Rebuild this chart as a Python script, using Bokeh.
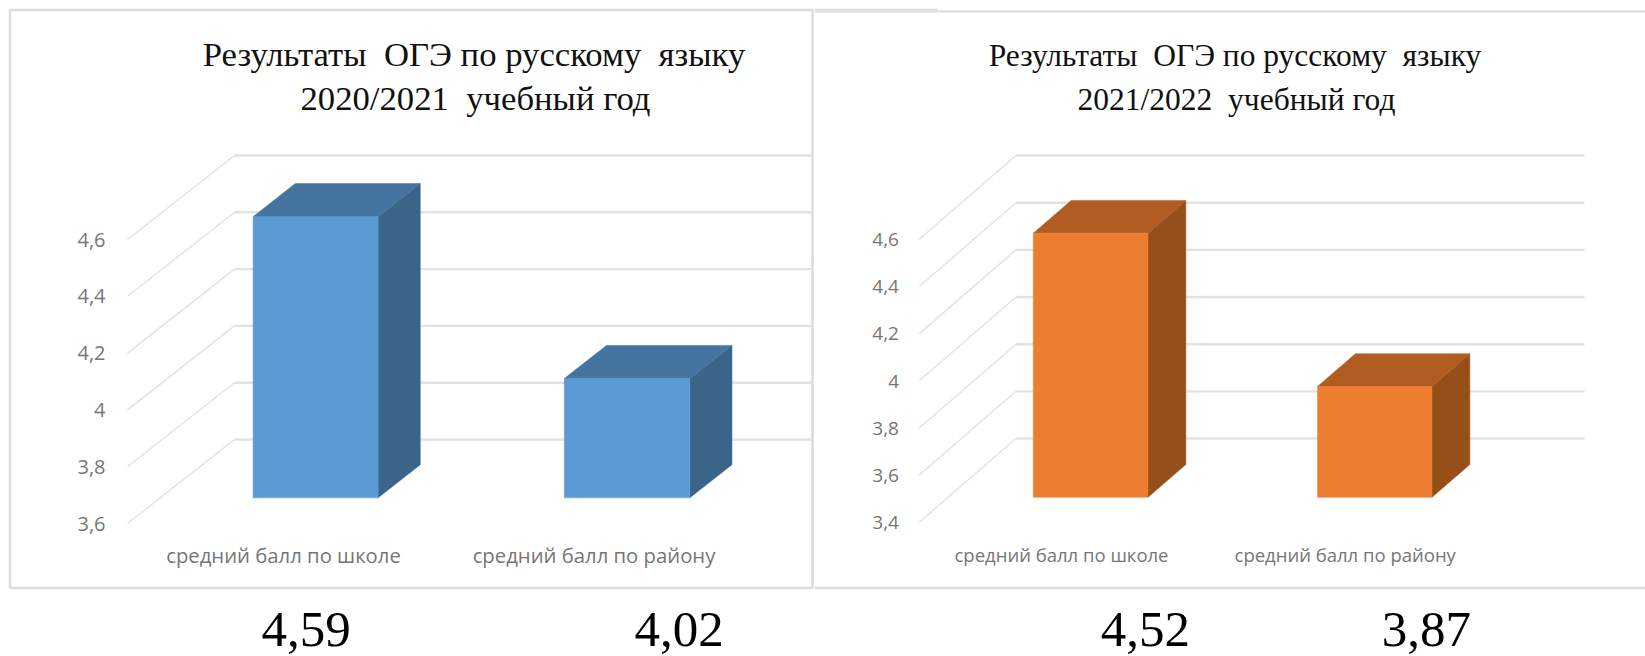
from bokeh.plotting import figure
from bokeh.layouts import row
from bokeh.models import Range1d, LinearAxis, FixedTicker
from bokeh.core.properties import value
from bokeh.embed import file_html
from bokeh.resources import INLINE

# ---- data
categories = ["средний балл по школе", "средний балл по району"]
title_left = ["Результаты\u00a0 ОГЭ по русскому\u00a0 языку", "2020/2021\u00a0 учебный год"]
title_right = ["Результаты\u00a0 ОГЭ по русскому\u00a0 языку", "2021/2022\u00a0 учебный год"]
values_left = [4.59, 4.02]
values_right = [4.52, 3.87]
ticks_left = [3.6, 3.8, 4.0, 4.2, 4.4, 4.6]
ticks_right = [3.4, 3.6, 3.8, 4.0, 4.2, 4.4, 4.6]

PAGE_TOP, PAGE_BOTTOM = 0, 656
SPLIT = 814
FRAME = "#dcdcdc"
GRID = "#e2e2e2"
BASE_FIX = 0.3  # the renderer places "alphabetic" text about this many ems low


def panel(x0, x1, axis_y, px_per_unit, ticks, vals, front_x, back_x, grid_end,
          bars, label_cfg, colors, title, title_cfg, value_x, cat_x, cat_size,
          tick_size, standoff):
    vmin = ticks[0]
    depth_y = 84 / px_per_unit
    depth_x = back_x - front_x
    Y = lambda py: vmin + (axis_y - py) / px_per_unit  # page pixel -> value scale
    T = lambda py, size: Y(py - BASE_FIX * size)

    p = figure(width=x1 - x0, height=PAGE_BOTTOM - PAGE_TOP, output_backend="svg",
               toolbar_location=None, x_axis_type=None, y_axis_type=None,
               x_range=Range1d(x0, x1), y_range=Range1d(Y(PAGE_BOTTOM), Y(PAGE_TOP)),
               min_border=0, outline_line_color=None, background_fill_color="white")
    p.grid.visible = False

    axis = LinearAxis(ticker=FixedTicker(ticks=ticks), fixed_location=front_x,
                      axis_line_color=None, major_tick_line_color=None, minor_tick_line_color=None,
                      major_label_standoff=standoff, major_label_text_color="#767676",
                      major_label_text_font="Open Sans", major_label_text_font_size=tick_size,
                      major_label_overrides={t: f"{t:g}".replace(".", ",") for t in ticks})
    p.add_layout(axis, "left")

    # walls: floor diagonals and back gridlines
    p.segment([front_x] * len(ticks), ticks, [back_x] * len(ticks), [t + depth_y for t in ticks],
              line_color=GRID, line_width=1.4)
    p.segment([back_x] * len(ticks), [t + depth_y for t in ticks],
              [grid_end] * len(ticks), [t + depth_y for t in ticks], line_color=GRID, line_width=2.4)

    # pseudo-3D bars
    d1, d2 = bars["depth"]
    for (xa, xb), v in zip(bars["x"], vals):
        xc = xb + (d2 - d1) * depth_x
        xd = xa + (d2 - d1) * depth_x
        yb = vmin + d1 * depth_y
        yt = v + d1 * depth_y
        dy = (d2 - d1) * depth_y
        p.patch([xb, xc, xc, xb], [yb, yb + dy, yt + dy, yt], fill_color=colors[2], line_color=colors[2], line_width=0.5)
        p.patch([xa, xb, xc, xd], [yt, yt, yt + dy, yt + dy], fill_color=colors[1], line_color=colors[1], line_width=0.5)
        p.quad(left=[xa], right=[xb], bottom=[yb], top=[yt], fill_color=colors[0], line_color=colors[0], line_width=0.5)

    # titles
    for line, (cx, base) in zip(title, title_cfg["pos"]):
        p.text([cx], [T(base, title_cfg["size"])], text=[line], text_align="center", text_baseline="alphabetic",
               text_font=value("Liberation Serif"), text_font_size=f'{title_cfg["size"]}px', text_color="#111111")
    # category labels
    p.text(cat_x, [T(label_cfg, cat_size)] * len(cat_x), text=categories, text_align="center", text_baseline="alphabetic",
           text_font=value("Open Sans"), text_font_size=f"{cat_size}px", text_color="#767676")
    # values under the chart
    p.text(value_x, [T(644, 51)] * len(value_x), text=[f"{v:.2f}".replace(".", ",") for v in vals],
           text_align="center", text_baseline="alphabetic", text_font=value("Liberation Serif"),
           text_font_size="51px", text_color="#000000")
    return p, Y


left, YL = panel(0, SPLIT, 523, 284, ticks_left, values_left, 127, 234, 812,
                 {"x": [(252.6, 377.6), (563.8, 689.3)], "depth": (0.306, 0.70)}, 561,
                 ("#5b9bd5", "#44749f", "#3a6488"), title_left,
                 {"size": 34.7, "pos": [(473.5, 64), (475, 108)]},
                 [305.7, 678.6], [283, 593.5], 20.3, "20px", 16)
right, YR = panel(SPLIT, 1645, 522, 235.8, ticks_right, values_right, 918.5, 1015.5, 1584,
                  {"x": [(1032.8, 1147.5), (1317, 1431.5)], "depth": (0.30, 0.69)}, 560,
                  ("#ed7d31", "#b15d21", "#974f1a"), title_right,
                  {"size": 31.5, "pos": [(1234.5, 64), (1236, 108)]},
                  [1144.8, 1425.8], [1061, 1344.7], 18.5, "19px", 14)

# panel frames
left.line([9.5, 9.5, 812, 812, 9.5], [YL(587.5), YL(9.5), YL(9.5), YL(587.5), YL(587.5)],
          line_color=FRAME, line_width=2.5)
right.line([SPLIT, 1645], [YR(587.5), YR(587.5)], line_color=FRAME, line_width=2.5)
right.line([SPLIT, 1645], [YR(11), YR(11)], line_color=FRAME, line_width=2)
right.line([SPLIT, 937], [YR(9.3), YR(9.3)], line_color=FRAME, line_width=2)

page = row(left, right, spacing=0)
open("out.html", "w").write(file_html(page, INLINE))
